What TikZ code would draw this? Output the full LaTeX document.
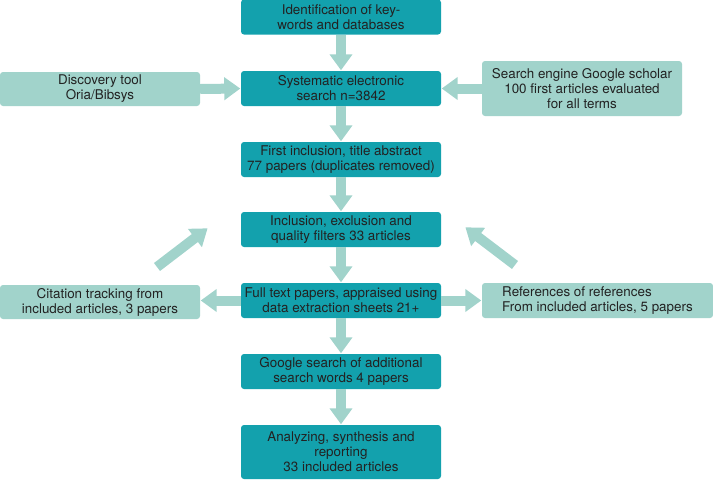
\documentclass[tikz,border=0pt]{standalone}
\usepackage{fontspec}
\setmainfont{TeX Gyre Heros}
\usetikzlibrary{arrows.meta}
\definecolor{darkteal}{HTML}{13A1AD}
\definecolor{lightteal}{HTML}{A1D3CB}
\definecolor{txt}{HTML}{222222}
\begin{document}
\begin{tikzpicture}[x=1pt,y=-1pt,
  font=\fontsize{13.4}{15}\selectfont,
  mainbox/.style={fill=darkteal, draw=none, rounded corners=3pt, text=txt, align=center, minimum width=200pt, minimum height=35pt, inner sep=1pt},
  sidebox/.style={fill=lightteal, draw=none, rounded corners=3pt, text=txt, align=center, minimum width=200pt, minimum height=35pt, inner sep=1pt},
  fat/.style={draw=lightteal, line width=10pt, -{Triangle[length=16pt,width=22pt]}, shorten >=0.5pt}
]
\useasboundingbox (0,0) rectangle (713,480);
\node[mainbox] (b1) at (341,17) {Identification of key-\\words and databases};
\node[mainbox] (b2) at (341,88.5) {Systematic electronic\\search n=3842};
\node[mainbox] (b3) at (341,159.5) {First inclusion, title abstract\\77 papers (duplicates removed)};
\node[mainbox] (b4) at (341,229.5) {Inclusion, exclusion and\\quality filters 33 articles};
\node[mainbox] (b5) at (341,300.5) {Full text papers, appraised using\\data extraction sheets 21+};
\node[mainbox] (b6) at (341,371.5) {Google search of additional\\search words 4 papers};
\node[mainbox, minimum height=54pt] (b7) at (341,452) {Analyzing, synthesis and\\reporting\\33 included articles};
\node[sidebox, minimum height=34pt] (disc) at (100,89) {Discovery tool\\Oria/Bibsys};
\node[sidebox, minimum height=55pt] (eng) at (582,88.5) {Search engine Google scholar\\100 first articles evaluated\\for all terms};
\node[sidebox, minimum height=34pt] (cit) at (100,302) {Citation tracking from\\included articles, 3 papers};
\node[sidebox, minimum width=231pt, align=left] (refs) at (597.5,300.5) {References of references\\From included articles, 5 papers};
\coordinate (lt) at (157,267);
\coordinate (lh) at (208,228);
\coordinate (rt) at (515,265);
\coordinate (rh) at (465,227);
\draw[fat] (b1.south) -- (b2.north);
\draw[fat] (b2.south) -- (b3.north);
\draw[fat] (b3.south) -- (b4.north);
\draw[fat] (b4.south) -- (b5.north);
\draw[fat] (b5.south) -- (b6.north);
\draw[fat] (b6.south) -- (b7.north);
\draw[fat] (disc.east) -- (b2.west);
\draw[fat] (eng.west |- b2.east) -- (b2.east);
\draw[fat] (b5.west) -- (cit.east |- b5.west);
\draw[fat] (b5.east) -- (refs.west);
\draw[fat] (lt) -- (lh);
\draw[fat] (rt) -- (rh);
\end{tikzpicture}
\end{document}
